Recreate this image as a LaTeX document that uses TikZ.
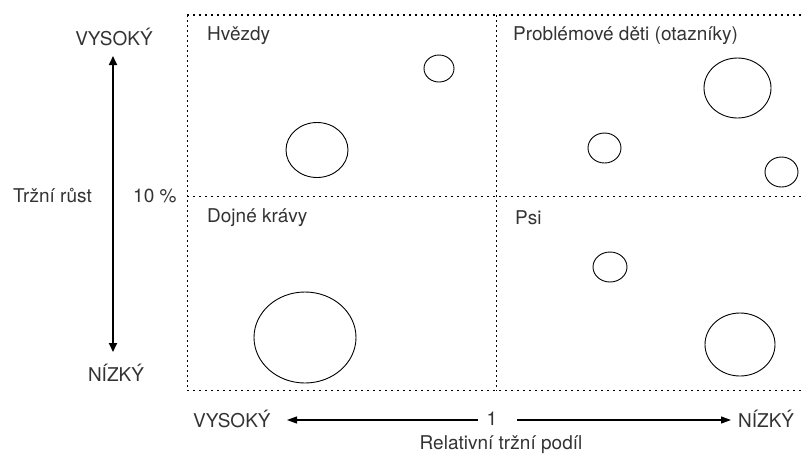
\documentclass[tikz,border=0pt]{standalone}
\usepackage{fontspec}
\setmainfont{TeX Gyre Heros}
\usetikzlibrary{shapes.geometric,arrows.meta}
\begin{document}
\begin{tikzpicture}[x=1pt,y=-1pt,
  lbl/.style={font=\fontsize{19}{21}\selectfont, text=black!80, inner sep=0pt},
  qlbl/.style={lbl, anchor=west},
  bubble/.style={ellipse, draw, line width=0.9pt, inner sep=0pt},
  gridh/.style={line width=1.5pt, dash pattern=on 1.6pt off 4.4pt},
  gridv/.style={line width=1.5pt, dash pattern=on 1.6pt off 3.4pt},
  axisarrow/.style={line width=1.7pt, -{Triangle[length=9pt,width=8pt]}},
  shareline/.style={line width=1.2pt, -{Triangle[length=10pt,width=7pt]}}]
\useasboundingbox (0,0) rectangle (801,459);

% dotted grid of the four quadrants
\draw[gridh] (187,15) -- (801,15);
\draw[gridh] (187,196.5) -- (801,196.5);
\draw[gridh] (187,390.5) -- (801,390.5);
\draw[gridv] (187.5,15) -- (187.5,390.5);
\draw[gridv] (496.5,15) -- (496.5,390.5);

% quadrant titles
\node[qlbl] (stars) at (207,36) {Hvězdy};
\node[qlbl] (question) at (513,36) {Problémové děti (otazníky)};
\node[qlbl] (cows) at (207,218) {Dojné krávy};
\node[qlbl] (dogs) at (515,218) {Psi};

% business units
\node[bubble, minimum width=30pt, minimum height=27pt] (s1) at (439,68.5) {};
\node[bubble, minimum width=62pt, minimum height=55pt] (s2) at (317,150) {};
\node[bubble, minimum width=67pt, minimum height=60pt] (q1) at (737.5,88) {};
\node[bubble, minimum width=33pt, minimum height=30pt] (q2) at (604.5,148) {};
\node[bubble, minimum width=33pt, minimum height=30pt] (q3) at (781.5,172) {};
\node[bubble, minimum width=102pt, minimum height=91pt] (c1) at (305,337.5) {};
\node[bubble, minimum width=34pt, minimum height=30pt] (d1) at (610,267) {};
\node[bubble, minimum width=70pt, minimum height=63pt] (d2) at (740,344.5) {};

% market growth axis
\node[lbl] (high) at (114,37) {VYSOKÝ};
\node[lbl] (low) at (116,373) {NÍZKÝ};
\node[lbl, anchor=west] (growth) at (13,196) {Tržní růst};
\node[lbl, anchor=west] (ten) at (133,196) {10 \%};
\coordinate (vmid) at (113,200);
\coordinate (vtop) at (113,56);
\coordinate (vbot) at (113,352);
\draw[axisarrow] (vmid) -- (vtop);
\draw[axisarrow] (vmid) -- (vbot);

% relative market share axis
\node[lbl, anchor=west] (shigh) at (193,419) {VYSOKÝ};
\node[lbl, anchor=west] (slow) at (738,419) {NÍZKÝ};
\node[lbl] (one) at (492,419) {1};
\node[lbl] (share) at (501,445) {Relativní tržní podíl};
\coordinate (lstart) at (478,420);
\coordinate (ltip) at (287,420);
\coordinate (rstart) at (517,420);
\coordinate (rtip) at (731,420);
\draw[shareline] (lstart) -- (ltip);
\draw[shareline] (rstart) -- (rtip);
\end{tikzpicture}
\end{document}
